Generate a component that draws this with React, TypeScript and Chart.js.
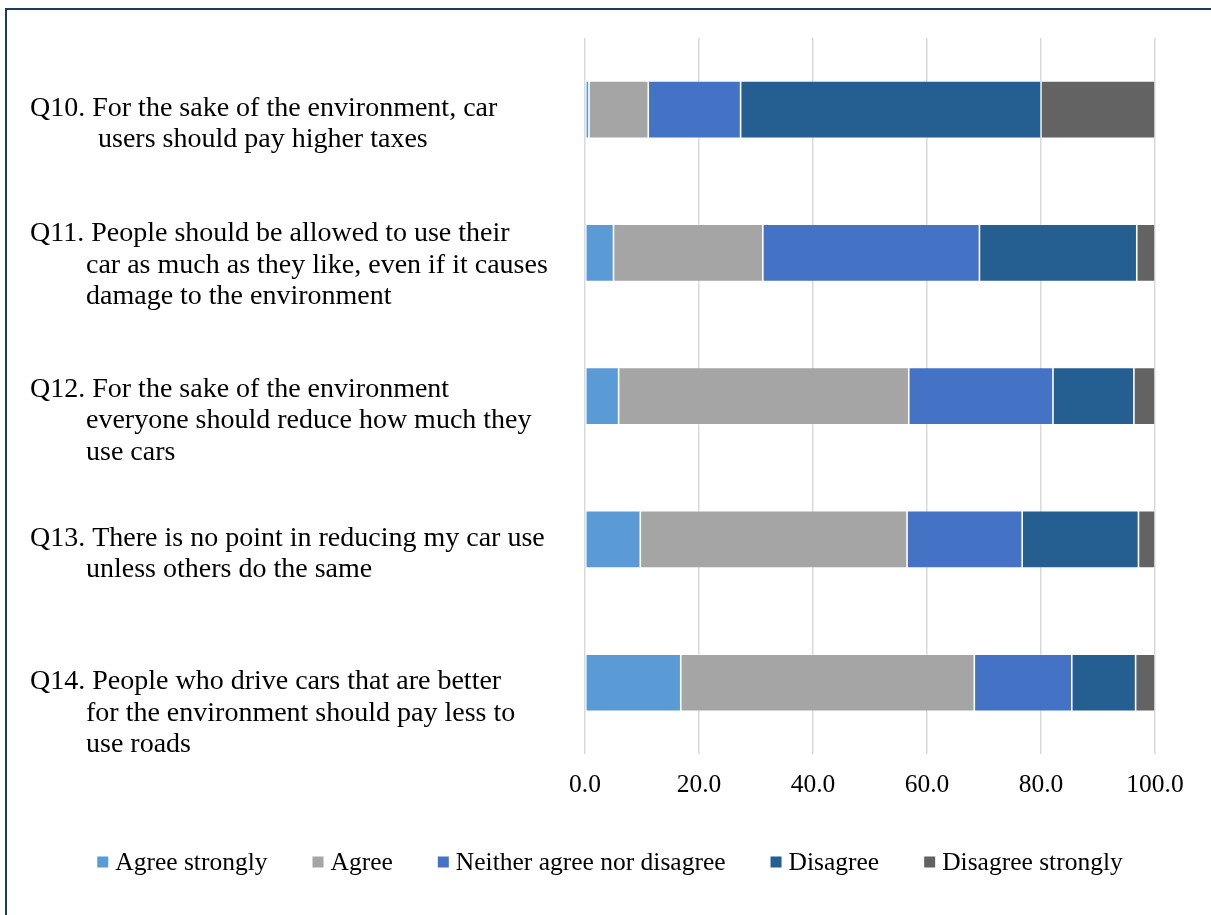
import React, { useEffect, useRef } from "react";
import { Chart, registerables } from "chart.js";

Chart.register(...registerables);

// Survey statements, each split into the lines it is printed on
const questions: string[][] = [
  ["Q10. For the sake of the environment, car", "users should pay higher taxes"],
  [
    "Q11. People should be allowed to use their",
    "car as much as they like, even if it causes",
    "damage to the environment",
  ],
  [
    "Q12. For the sake of the environment",
    "everyone should reduce how much they",
    "use cars",
  ],
  ["Q13. There is no point in reducing my car use", "unless others do the same"],
  [
    "Q14. People who drive cars that are better",
    "for the environment should pay less to",
    "use roads",
  ],
];

// Share of respondents (%) per answer, in the order of the questions above
const agreeStrongly = [0.7, 5.0, 5.9, 9.7, 16.8];
const agree = [10.4, 26.2, 50.9, 46.8, 51.5];
const neitherAgreeNorDisagree = [16.2, 38.0, 25.3, 20.2, 17.1];
const disagree = [52.7, 27.6, 14.2, 20.4, 11.2];
const disagreeStrongly = [20.0, 3.2, 3.7, 2.9, 3.4];

const seriesNames = [
  "Agree strongly",
  "Agree",
  "Neither agree nor disagree",
  "Disagree",
  "Disagree strongly",
];
const seriesColors = ["#5B9BD5", "#A5A5A5", "#4472C4", "#255E91", "#636363"];

const xMin = 0;
const xMax = 100;
const xStep = 20;

const SERIF = "'Liberation Serif', 'Times New Roman', serif";

// Multi-line statements on the left, with a hanging indent
const questionLabels = {
  id: "questionLabels",
  afterDraw(chart: any, _args: any, opts: any) {
    const { ctx } = chart;
    const yScale = chart.scales.y;
    ctx.save();
    ctx.font = `${opts.fontSize}px ${SERIF}`;
    ctx.fillStyle = "#000";
    ctx.textAlign = "left";
    ctx.textBaseline = "middle";
    (chart.data.labels as string[][]).forEach((lines, i) => {
      const first =
        yScale.getPixelForValue(i) + opts.firstLineOffset + (opts.nudge[i] || 0);
      lines.forEach((line, j) => {
        const x = j === 0 ? opts.left : opts.indent + (opts.extraIndent[i] || 0);
        ctx.fillText(line, x, first + j * opts.lineHeight);
      });
    });
    ctx.restore();
  },
};

// Single-row legend centred under the axis
const bottomLegend = {
  id: "bottomLegend",
  afterDraw(chart: any, _args: any, opts: any) {
    const { ctx } = chart;
    ctx.save();
    ctx.font = `${opts.fontSize}px ${SERIF}`;
    ctx.textAlign = "left";
    ctx.textBaseline = "middle";
    const items = chart.data.datasets.map((ds: any) => ({
      text: ds.label as string,
      color: ds.backgroundColor as string,
      w: ctx.measureText(ds.label).width,
    }));
    const total =
      items.reduce((s: number, it: any) => s + opts.box + opts.gap + it.w, 0) +
      opts.spacing * (items.length - 1);
    let x = opts.centerX - total / 2;
    items.forEach((it: any) => {
      ctx.fillStyle = it.color;
      ctx.fillRect(x, opts.y - opts.box / 2, opts.box, opts.box);
      ctx.fillStyle = "#000";
      ctx.fillText(it.text, x + opts.box + opts.gap, opts.y + 1);
      x += opts.box + opts.gap + it.w + opts.spacing;
    });
    ctx.restore();
  },
};

export default function App() {
  const canvasRef = useRef<HTMLCanvasElement | null>(null);

  useEffect(() => {
    const canvas = canvasRef.current;
    if (!canvas) return;
    const values = [
      agreeStrongly,
      agree,
      neitherAgreeNorDisagree,
      disagree,
      disagreeStrongly,
    ];
    const chart = new Chart(canvas, {
      type: "bar",
      data: {
        labels: questions as any,
        datasets: values.map((data, i) => ({
          label: seriesNames[i],
          data,
          backgroundColor: seriesColors[i],
          borderColor: "rgba(255,255,255,0.35)",
          borderWidth: 0.8,
          borderSkipped: false,
          categoryPercentage: 0.8,
          barPercentage: 0.5,
        })),
      },
      options: {
        indexAxis: "y",
        responsive: false,
        animation: false,
        devicePixelRatio: 1,
        layout: { padding: { left: 585, right: 56, top: 38, bottom: 98 } },
        plugins: {
          legend: { display: false },
          tooltip: { enabled: false },
          questionLabels: {
            fontSize: 28,
            left: 30,
            indent: 86,
            extraIndent: [12, 0, 0, 0, 0],
            lineHeight: 31.5,
            firstLineOffset: -1,
            nudge: [0, -18, -6, 0, 0],
          },
          bottomLegend: { fontSize: 25.5, y: 862, centerX: 610, box: 11, gap: 7, spacing: 45 },
        } as any,
        scales: {
          x: {
            stacked: true,
            min: xMin,
            max: xMax,
            grid: { color: "#d9d9d9", lineWidth: 1.5, drawTicks: false },
            border: { display: false },
            ticks: {
              stepSize: xStep,
              padding: 16,
              color: "#000",
              font: { family: SERIF, size: 25.5 },
              callback: (v: any) => Number(v).toFixed(1),
            },
          },
          y: {
            stacked: true,
            display: false,
            grid: { display: false },
          },
        },
      },
      plugins: [questionLabels, bottomLegend],
    });
    return () => chart.destroy();
  }, []);

  return (
    <div
      style={{
        position: "fixed",
        left: 0,
        top: 0,
        width: 1211,
        height: 915,
        overflow: "hidden",
        background: "#fff",
      }}
    >
      <div
        style={{
          position: "absolute",
          left: 5,
          top: 8,
          right: 0,
          bottom: 0,
          borderTop: "2px solid #1F3864",
          borderLeft: "2px solid #1F3864",
        }}
      />
      <canvas
        ref={canvasRef}
        width={1211}
        height={915}
        style={{ position: "absolute", left: 0, top: 0, width: 1211, height: 915 }}
      />
    </div>
  );
}
